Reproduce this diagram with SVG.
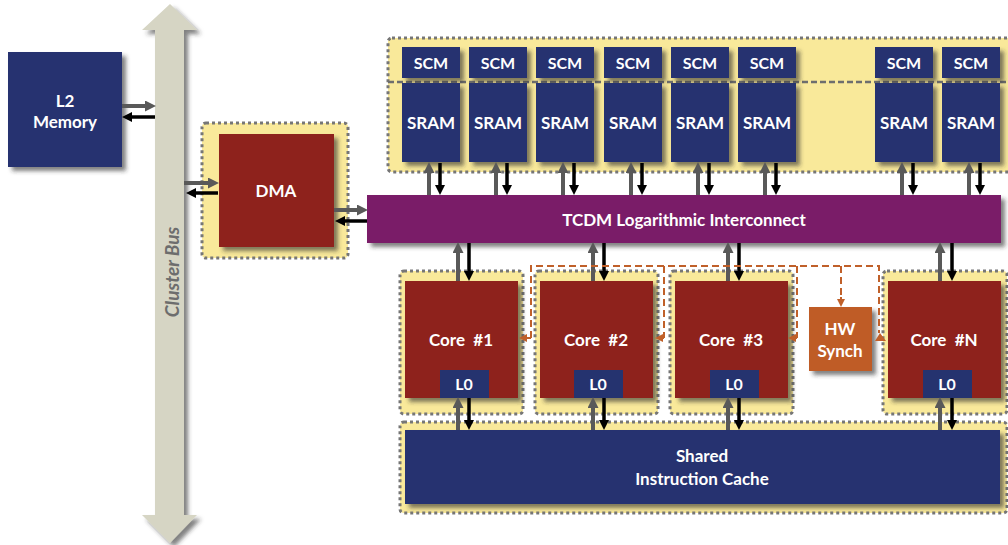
<svg xmlns="http://www.w3.org/2000/svg" width="1008" height="545" viewBox="0 0 1008 545">
  <defs>
    <filter id="shadow" x="-10%" y="-10%" width="130%" height="130%">
      <feDropShadow dx="4" dy="4" stdDeviation="2.2" flood-color="#2a2a2a" flood-opacity="0.6"/>
    </filter>
    <!-- gray request arrowhead -->
    <marker id="ag" viewBox="0 0 10 10" refX="0" refY="5" markerWidth="11" markerHeight="11" markerUnits="userSpaceOnUse" orient="auto">
      <path d="M0,0 L10,5 L0,10 Z" fill="#595959"/>
    </marker>
    <!-- black response arrowhead -->
    <marker id="ab" viewBox="0 0 10 10" refX="0" refY="5" markerWidth="10" markerHeight="10" markerUnits="userSpaceOnUse" orient="auto">
      <path d="M0,0 L10,5 L0,10 Z" fill="#000"/>
    </marker>
    <!-- orange synchronisation arrowhead -->
    <marker id="ao" viewBox="0 0 10 10" refX="0" refY="5" markerWidth="8" markerHeight="8" markerUnits="userSpaceOnUse" orient="auto">
      <path d="M0,0 L10,5 L0,10 Z" fill="#c0602a"/>
    </marker>
  </defs>
  <style>
    .lbl { font-family: Lato, "Liberation Sans", sans-serif; font-weight: bold; fill: #fff; text-anchor: middle; dominant-baseline: central; }
    .navy { fill: #25336f; }
    .red { fill: #8e221e; }
    .zone { fill: #f9e99a; stroke: #767676; stroke-width: 3; stroke-dasharray: 3 3; }
    .g { stroke: #595959; stroke-width: 4; fill: none; marker-end: url(#ag); }
    .k { stroke: #000; stroke-width: 3.5; fill: none; marker-end: url(#ab); }
    .sync { stroke: #c0602a; stroke-width: 2; stroke-dasharray: 7 4; fill: none; }
    .synca { stroke: #c0602a; stroke-width: 2; fill: none; marker-end: url(#ao); }
  </style>

  <!-- cluster bus -->
  <g id="cluster-bus">
    <polygon points="170,4 197,30 184,30 184,515 197,515 170,543 142,515 155,515 155,30 142,30" fill="#d6d5c4" filter="url(#shadow)"/>
    <text x="171" y="272" transform="rotate(-90 171 272)" font-family="Lato, 'Liberation Sans', sans-serif" font-weight="bold" font-style="italic" font-size="19" fill="#6d6d6d" text-anchor="middle" dominant-baseline="central">Cluster Bus</text>
  </g>

  <!-- L2 memory -->
  <g id="l2-memory">
    <rect x="8" y="52" width="114" height="115" class="navy" filter="url(#shadow)"/>
    <text x="65" y="100" class="lbl" font-size="17">L2</text>
    <text x="65" y="121" class="lbl" font-size="17">Memory</text>
  </g>

  <!-- DMA -->
  <g id="dma">
    <rect x="202" y="123" width="146" height="135" rx="4" class="zone"/>
    <rect x="219" y="134" width="115" height="113" class="red" filter="url(#shadow)"/>
    <text x="276" y="190" class="lbl" font-size="17">DMA</text>
  </g>

  <!-- TCDM memory banks -->
  <g id="tcdm-banks">
    <rect x="388" y="38" width="625" height="134" rx="4" class="zone"/>
    <line x1="388" y1="82" x2="1008" y2="82" stroke="#6e6e6e" stroke-width="2.5" stroke-dasharray="6 3"/>
    <g id="bank-1" filter="url(#shadow)">
      <rect x="402" y="47" width="58" height="31" class="navy"/>
      <rect x="402" y="83" width="58" height="79" class="navy"/>
    </g>
    <g id="bank-2" filter="url(#shadow)">
      <rect x="469" y="47" width="58" height="31" class="navy"/>
      <rect x="469" y="83" width="58" height="79" class="navy"/>
    </g>
    <g id="bank-3" filter="url(#shadow)">
      <rect x="536" y="47" width="58" height="31" class="navy"/>
      <rect x="536" y="83" width="58" height="79" class="navy"/>
    </g>
    <g id="bank-4" filter="url(#shadow)">
      <rect x="604" y="47" width="58" height="31" class="navy"/>
      <rect x="604" y="83" width="58" height="79" class="navy"/>
    </g>
    <g id="bank-5" filter="url(#shadow)">
      <rect x="671" y="47" width="58" height="31" class="navy"/>
      <rect x="671" y="83" width="58" height="79" class="navy"/>
    </g>
    <g id="bank-6" filter="url(#shadow)">
      <rect x="738" y="47" width="58" height="31" class="navy"/>
      <rect x="738" y="83" width="58" height="79" class="navy"/>
    </g>
    <g id="bank-7" filter="url(#shadow)">
      <rect x="875" y="47" width="58" height="31" class="navy"/>
      <rect x="875" y="83" width="58" height="79" class="navy"/>
    </g>
    <g id="bank-8" filter="url(#shadow)">
      <rect x="942" y="47" width="58" height="31" class="navy"/>
      <rect x="942" y="83" width="58" height="79" class="navy"/>
    </g>
    <g font-size="16">
      <text x="431" y="62" class="lbl">SCM</text>
      <text x="498" y="62" class="lbl">SCM</text>
      <text x="565" y="62" class="lbl">SCM</text>
      <text x="633" y="62" class="lbl">SCM</text>
      <text x="700" y="62" class="lbl">SCM</text>
      <text x="767" y="62" class="lbl">SCM</text>
      <text x="904" y="62" class="lbl">SCM</text>
      <text x="971" y="62" class="lbl">SCM</text>
    </g>
    <g font-size="17">
      <text x="431" y="122" class="lbl">SRAM</text>
      <text x="498" y="122" class="lbl">SRAM</text>
      <text x="565" y="122" class="lbl">SRAM</text>
      <text x="633" y="122" class="lbl">SRAM</text>
      <text x="700" y="122" class="lbl">SRAM</text>
      <text x="767" y="122" class="lbl">SRAM</text>
      <text x="904" y="122" class="lbl">SRAM</text>
      <text x="971" y="122" class="lbl">SRAM</text>
    </g>
  </g>

  <!-- logarithmic interconnect -->
  <g id="tcdm-interconnect">
    <rect x="367" y="195" width="634" height="48" fill="#7a1f68" filter="url(#shadow)"/>
    <text x="684" y="219" class="lbl" font-size="17">TCDM Logarithmic Interconnect</text>
  </g>

  <!-- processing cores -->
  <g id="core-1">
    <rect x="400" y="271" width="123" height="143" rx="4" class="zone"/>
    <rect x="405" y="281" width="113" height="117" class="red" filter="url(#shadow)"/>
    <rect x="440" y="370" width="49" height="28" class="navy"/>
    <text x="461" y="339" class="lbl" font-size="17" xml:space="preserve">Core  #1</text>
    <text x="464" y="383" class="lbl" font-size="16">L0</text>
  </g>
  <g id="core-2">
    <rect x="535" y="271" width="123" height="143" rx="4" class="zone"/>
    <rect x="540" y="281" width="113" height="117" class="red" filter="url(#shadow)"/>
    <rect x="574" y="370" width="49" height="28" class="navy"/>
    <text x="596" y="339" class="lbl" font-size="17" xml:space="preserve">Core  #2</text>
    <text x="598" y="383" class="lbl" font-size="16">L0</text>
  </g>
  <g id="core-3">
    <rect x="670" y="271" width="123" height="143" rx="4" class="zone"/>
    <rect x="675" y="281" width="113" height="117" class="red" filter="url(#shadow)"/>
    <rect x="710" y="370" width="49" height="28" class="navy"/>
    <text x="731" y="339" class="lbl" font-size="17" xml:space="preserve">Core  #3</text>
    <text x="734" y="383" class="lbl" font-size="16">L0</text>
  </g>
  <g id="core-n">
    <rect x="883" y="271" width="124" height="143" rx="4" class="zone"/>
    <rect x="888" y="281" width="113" height="117" class="red" filter="url(#shadow)"/>
    <rect x="923" y="370" width="49" height="28" class="navy"/>
    <text x="944" y="339" class="lbl" font-size="17" xml:space="preserve">Core  #N</text>
    <text x="947" y="383" class="lbl" font-size="16">L0</text>
  </g>

  <!-- hardware synchroniser -->
  <g id="hw-synch">
    <rect x="809" y="307" width="63" height="64" fill="#bf5b25" filter="url(#shadow)"/>
    <text x="840" y="328" class="lbl" font-size="17">HW</text>
    <text x="840" y="350" class="lbl" font-size="17">Synch</text>
  </g>

  <!-- shared instruction cache -->
  <g id="icache">
    <rect x="400" y="422" width="607" height="91" rx="4" class="zone"/>
    <rect x="405" y="430" width="595" height="74" class="navy" filter="url(#shadow)"/>
    <text x="702" y="455" class="lbl" font-size="17">Shared</text>
    <text x="702" y="478" class="lbl" font-size="17">Instruction Cache</text>
  </g>

  <!-- connectors -->
  <g id="connectors">
    <!-- L2 <-> bus -->
    <line x1="122" y1="106" x2="145" y2="106" class="g"/>
    <line x1="155" y1="117" x2="132" y2="117" class="k"/>
    <!-- bus <-> DMA -->
    <line x1="184" y1="183" x2="208" y2="183" class="g"/>
    <line x1="218" y1="193" x2="196" y2="193" class="k"/>
    <!-- DMA <-> interconnect -->
    <line x1="334" y1="210" x2="357" y2="210" class="g"/>
    <line x1="367" y1="221" x2="345" y2="221" class="k"/>

    <!-- banks <-> interconnect -->
    <g>
      <line x1="429" y1="195" x2="429" y2="173" class="g"/><line x1="440" y1="163" x2="440" y2="185" class="k"/>
      <line x1="496" y1="195" x2="496" y2="173" class="g"/><line x1="507" y1="163" x2="507" y2="185" class="k"/>
      <line x1="563" y1="195" x2="563" y2="173" class="g"/><line x1="574" y1="163" x2="574" y2="185" class="k"/>
      <line x1="631" y1="195" x2="631" y2="173" class="g"/><line x1="642" y1="163" x2="642" y2="185" class="k"/>
      <line x1="698" y1="195" x2="698" y2="173" class="g"/><line x1="709" y1="163" x2="709" y2="185" class="k"/>
      <line x1="765" y1="195" x2="765" y2="173" class="g"/><line x1="776" y1="163" x2="776" y2="185" class="k"/>
      <line x1="902" y1="195" x2="902" y2="173" class="g"/><line x1="913" y1="163" x2="913" y2="185" class="k"/>
      <line x1="969" y1="195" x2="969" y2="173" class="g"/><line x1="980" y1="163" x2="980" y2="185" class="k"/>
    </g>

    <!-- interconnect <-> cores -->
    <g>
      <line x1="458" y1="281" x2="458" y2="253" class="g"/><line x1="469" y1="243" x2="469" y2="271" class="k"/>
      <line x1="593" y1="281" x2="593" y2="253" class="g"/><line x1="604" y1="243" x2="604" y2="271" class="k"/>
      <line x1="728" y1="281" x2="728" y2="253" class="g"/><line x1="739" y1="243" x2="739" y2="271" class="k"/>
      <line x1="940" y1="281" x2="940" y2="253" class="g"/><line x1="952" y1="243" x2="952" y2="271" class="k"/>
    </g>

    <!-- cores <-> instruction cache -->
    <g>
      <line x1="458" y1="430" x2="458" y2="408" class="g"/><line x1="469" y1="398" x2="469" y2="420" class="k"/>
      <line x1="593" y1="430" x2="593" y2="408" class="g"/><line x1="604" y1="398" x2="604" y2="420" class="k"/>
      <line x1="728" y1="430" x2="728" y2="408" class="g"/><line x1="739" y1="398" x2="739" y2="420" class="k"/>
      <line x1="940" y1="430" x2="940" y2="408" class="g"/><line x1="952" y1="398" x2="952" y2="420" class="k"/>
    </g>

    <!-- synchronisation events -->
    <path d="M531,338 V266 H879 V333" class="sync"/>
    <path d="M664,266 V338" class="sync"/>
    <path d="M797,266 V338" class="sync"/>
    <path d="M841,266 V298" class="sync"/>
    <line x1="531" y1="338" x2="527" y2="338" class="synca"/>
    <line x1="664" y1="338" x2="663" y2="338" class="synca"/>
    <line x1="797" y1="338" x2="796" y2="338" class="synca"/>
    <line x1="841" y1="297" x2="841" y2="299" class="synca"/>
    <polygon points="880,333 875,341 886,341" fill="#c0602a"/>
  </g>
</svg>
